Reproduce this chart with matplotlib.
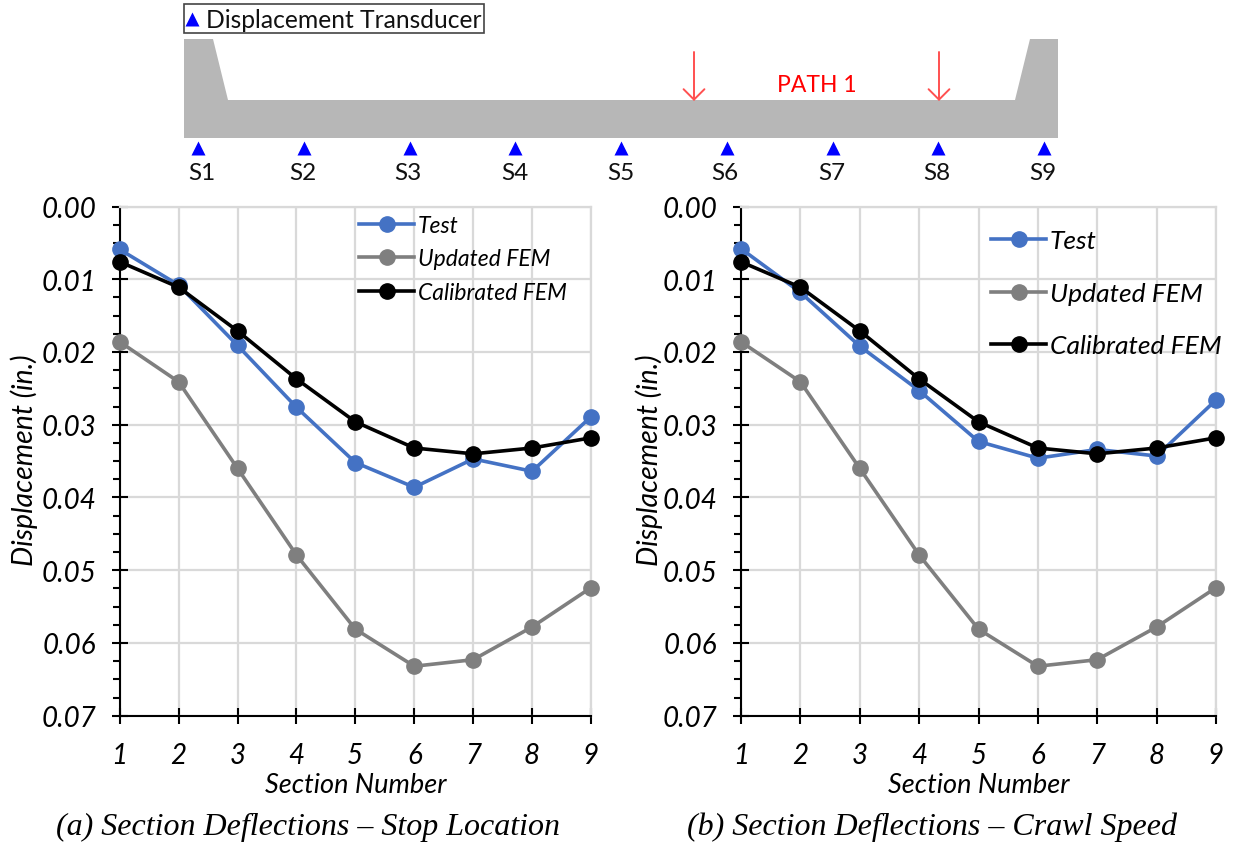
"""Section deflections along the bridge: stop location and crawl speed."""
import matplotlib
matplotlib.use("Agg")
import matplotlib.pyplot as plt
from matplotlib.patches import Polygon, Rectangle

W, H = 1233, 845

sections = [1, 2, 3, 4, 5, 6, 7, 8, 9]
test_stop = [0.0059, 0.0108, 0.0191, 0.0276, 0.0352, 0.0386, 0.0347, 0.0364, 0.0289]
test_crawl = [0.0058, 0.0118, 0.0192, 0.0253, 0.0323, 0.0346, 0.0334, 0.0343, 0.0266]
updated_fem = [0.0186, 0.0241, 0.0360, 0.0479, 0.0581, 0.0632, 0.0623, 0.0578, 0.0524]
calibrated_fem = [0.0076, 0.0111, 0.0171, 0.0237, 0.0296, 0.0332, 0.0340, 0.0332, 0.0318]
yticks = [0.00, 0.01, 0.02, 0.03, 0.04, 0.05, 0.06, 0.07]

# cross section sketch, in image pixels
deck_x = [184, 213, 228, 1015, 1030, 1058, 1058, 184]
deck_y = [40, 40, 101, 101, 40, 40, 139, 139]
sensor_x = [198, 304, 410, 515, 621, 727, 833, 938, 1044]
sensor_labels = ["S1", "S2", "S3", "S4", "S5", "S6", "S7", "S8", "S9"]
label_x = [202, 303, 408, 515, 621, 725, 832, 937, 1043]
arrow_x = [694, 939]

BLUE = "#4472c4"
GRAY = "#7f7f7f"
GRID = "#d9d9d9"
SANS = "Lato"
SERIF = "Liberation Serif"
MS = 11
LW = 2.6

fig = plt.figure(figsize=(W / 100, H / 100), dpi=100)


def panel(left, right, test, caption, cap_x, ylab_x, legend_x, legend_y, legend_size):
    top, bottom = 207.5, 716.7
    ax = fig.add_axes([left / W, 1 - bottom / H, (right - left) / W, (bottom - top) / H])
    ax.plot(sections, updated_fem, "-o", color=GRAY, lw=LW, ms=MS, label="Updated FEM", clip_on=False, zorder=3)
    ax.plot(sections, test, "-o", color=BLUE, lw=LW, ms=MS, label="Test", clip_on=False, zorder=4)
    ax.plot(sections, calibrated_fem, "-o", color="black", lw=LW, ms=MS, label="Calibrated FEM", clip_on=False, zorder=5)
    ax.set_xlim(1, 9)
    ax.set_ylim(0.07, 0)
    ax.set_xticks(sections)
    ax.set_yticks(yticks)
    ax.set_yticklabels([f"{v:.2f}" for v in yticks])
    ax.set_yticks([v / 400 for v in range(0, 29) if v % 4], minor=True)
    ax.grid(color=GRID, lw=1.6)
    ax.set_axisbelow(True)
    for side in ("top", "right"):
        ax.spines[side].set_color(GRID)
        ax.spines[side].set_linewidth(1.6)
    for side in ("left", "bottom"):
        ax.spines[side].set_linewidth(1.5)
        ax.spines[side].set_zorder(2.5)
    ax.tick_params(axis="both", which="major", direction="inout", length=12, width=1.5, labelsize=20)
    ax.tick_params(axis="y", which="minor", direction="out", length=5, width=1.5)
    ax.tick_params(axis="x", pad=13)
    ax.tick_params(axis="y", pad=11)
    for lab in ax.get_xticklabels() + ax.get_yticklabels():
        lab.set_family(SANS)
        lab.set_style("italic")
    fig.text((left + right) / 2 / W, 1 - 786 / H, "Section Number", family=SANS, style="italic",
             fontsize=19.5, ha="center", va="center")
    fig.text(ylab_x / W, 1 - 460 / H, "Displacement (in.)", family=SANS, style="italic",
             fontsize=20.5, rotation=90, ha="center", va="center")

    # hand placed legend rows, spacing differs between the two panels
    handles = dict(zip(*ax.get_legend_handles_labels()[::-1]))
    for name, y in zip(["Test", "Updated FEM", "Calibrated FEM"], legend_y):
        line = handles[name]
        fig.add_artist(plt.Line2D([legend_x / W, (legend_x + 55) / W], [1 - y / H] * 2,
                                  color=line.get_color(), lw=LW, zorder=6))
        fig.add_artist(plt.Line2D([(legend_x + 27.5) / W], [1 - y / H], marker="o", ms=MS,
                                  color=line.get_color(), zorder=6))
        fig.text((legend_x + 59) / W, 1 - (y + 1.5) / H, name, family=SANS, style="italic",
                 fontsize=legend_size, va="center", zorder=6)
    fig.text(cap_x / W, 1 - 827.5 / H, caption, family=SERIF, style="italic",
             fontsize=23, ha="center", va="center")
    return ax


panel(119.7, 591, test_stop, "(a) Section Deflections \u2013 Stop Location", 308, 24,
      359, [225, 258, 292], 16.5)
panel(741, 1216, test_crawl, "(b) Section Deflections \u2013 Crawl Speed", 932, 649,
      991, [240, 293, 345], 19)

# sketch on top, drawn in pixel coordinates
sk = fig.add_axes([0, 0, 1, 1], facecolor="none")
sk.set_xlim(0, W)
sk.set_ylim(H, 0)
sk.axis("off")
sk.add_patch(Polygon(list(zip(deck_x, deck_y)), closed=True, fc="#b7b7b7", ec="none"))
sk.plot(sensor_x, [149] * 9, "^", color="#0000ff", ms=9.5, mec="none")
for x, s in zip(label_x, sensor_labels):
    sk.text(x, 174, s, family=SANS, fontsize=17.5, ha="center", va="center", color="#111111")
for x in arrow_x:
    sk.annotate("", xy=(x, 102), xytext=(x, 53),
                arrowprops=dict(arrowstyle="->,head_length=0.75,head_width=0.75", color="#ff5050",
                                lw=1.4, shrinkA=0, shrinkB=0))
sk.text(817, 85, "PATH 1", family=SANS, fontsize=16.5, color="#ff0000", ha="center", va="center")
sk.add_patch(Rectangle((184, 5), 300, 29, fc="white", ec="#444444", lw=1.2))
sk.plot([192], [20], "^", color="#0000ff", ms=9.5, mec="none")
sk.text(206, 21, "Displacement Transducer", family=SANS, fontsize=17.7, ha="left", va="center", color="#111111")

fig.savefig("out.png", dpi=100)
